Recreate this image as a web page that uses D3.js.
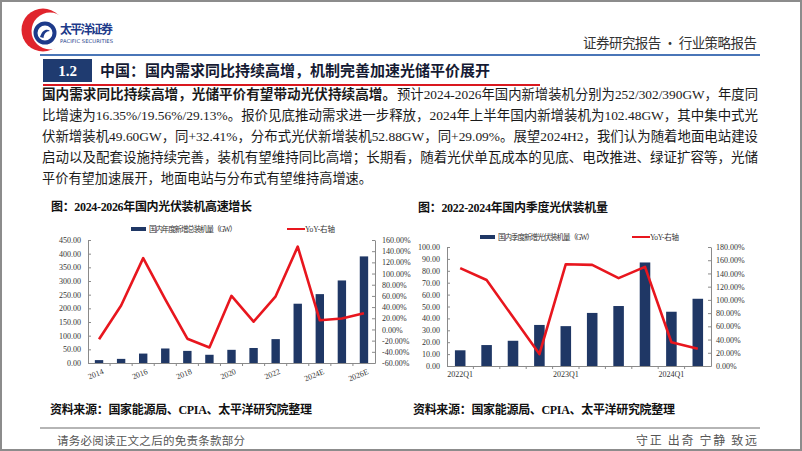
<!DOCTYPE html>
<html><head><meta charset="utf-8">
<script src="https://cdn.jsdelivr.net/npm/d3@7"></script>
<style>
body{margin:0;background:#fff;}
#wrap{position:relative;width:802px;height:451px;overflow:hidden;background:#fff;}
svg{position:absolute;left:0;top:0;}
</style></head>
<body><div id="wrap"></div>
<script>
// ---------- data ----------
const years = ["2014","2015","2016","2017","2018","2019","2020","2021","2022","2023","2024E","2025E","2026E"];
const yearLabels = ["2014","2016","2018","2020","2022","2024E","2026E"];
const annualGW = [10.6, 15.1, 34.5, 53.1, 44.3, 30.1, 48.2, 54.9, 87.4, 216.9, 252, 302, 390];
const annualYoY = [-17.4, 42.9, 127.5, 53.6, -16.6, -32.2, 60.1, 13.9, 59.3, 148.1, 16.35, 19.56, 29.13];
const leftTicksL = [0,50,100,150,200,250,300,350,400,450];
const leftTicksR = [-60,-40,-20,0,20,40,60,80,100,120,140,160];

const quarters = ["2022Q1","2022Q2","2022Q3","2022Q4","2023Q1","2023Q2","2023Q3","2023Q4","2024Q1","2024Q2"];
const quarterLabels = ["2022Q1","2023Q1","2024Q1"];
const quarterGW = [13.2, 17.6, 21.2, 34.5, 33.5, 44.6, 50.4, 87.0, 45.6, 56.5];
const quarterYoY = [148, 130, 74, 18, 154, 153, 133, 150, 36, 26];
const rightTicksL = [0,10,20,30,40,50,60,70,80,90,100];
const rightTicksR = [0,20,40,60,80,100,120,140,160,180];

const legendBarL = "国内年度新增总装机量（GW）";
const legendBarR = "国内季度新增光伏装机量（GW）";
const legendLine = "YoY-右轴";

const BAR = "#1f3765", RED = "#e8161e", AX = "#8a8a8a";
const SERIF = "'Liberation Serif','Noto Sans CJK SC',serif";
const CJK = "'Noto Sans CJK SC','Liberation Serif',sans-serif";

const svg = d3.select("#wrap").append("svg").attr("width",802).attr("height",451);

// frame
svg.append("rect").attr("x",1).attr("y",1).attr("width",800).attr("height",449)
  .attr("fill","none").attr("stroke","#8c8c8c").attr("stroke-width",2);

// ---------- header ----------
const logo = svg.append("g");
logo.append("circle").attr("cx",43).attr("cy",30).attr("r",21.5).attr("fill","#e0242c");
logo.append("circle").attr("cx",50).attr("cy",31).attr("r",18.5).attr("fill","#fff");
logo.append("circle").attr("cx",45).attr("cy",33).attr("r",9.5).attr("fill","none").attr("stroke","#1d3a8a").attr("stroke-width",4);
logo.append("path").attr("d","M40,37 C42,30 47,28 50,31 C46,31 44,34 43.5,38 Z").attr("fill","#1d3a8a");
svg.append("text").attr("x",60).attr("y",34).attr("font-family",CJK).attr("font-weight","bold")
  .attr("font-size",12).attr("fill","#1d3a8a").attr("textLength",53).text("太平洋证券");
svg.append("text").attr("x",60).attr("y",42.5).attr("font-family","'DejaVu Sans',sans-serif")
  .attr("font-size",5.2).attr("fill","#1d3a8a").attr("textLength",53).text("PACIFIC SECURITIES");
svg.append("text").attr("x",583).attr("y",48).attr("font-family",CJK).attr("font-size",13.5)
  .attr("fill","#333").attr("textLength",174).text("证券研究报告 • 行业策略报告");
svg.append("rect").attr("x",40).attr("y",54).attr("width",720).attr("height",2).attr("fill","#4a76b8");

// section title
svg.append("rect").attr("x",43).attr("y",59).attr("width",49).attr("height",23).attr("fill","#1f3b70");
svg.append("text").attr("x",67.5).attr("y",76).attr("text-anchor","middle").attr("font-family",SERIF)
  .attr("font-weight","bold").attr("font-size",15).attr("fill","#fff").text("1.2");
svg.append("text").attr("x",100).attr("y",76).attr("font-family",CJK).attr("font-weight","bold")
  .attr("font-size",15).attr("fill","#151a33").attr("textLength",390).text("中国：国内需求同比持续高增，机制完善加速光储平价展开");
svg.append("rect").attr("x",43).attr("y",84).attr("width",497).attr("height",2).attr("fill","#d9181f");

// paragraph
const pf = 13.2;
function pline(x, y, txt, len, bold){
  const t = svg.append("text").attr("x",x).attr("y",y).attr("font-family",SERIF)
    .attr("font-size",pf).attr("fill","#1a1a1a").text(txt);
  if (bold) t.attr("font-weight","bold");
  if (len) t.attr("textLength",len).attr("lengthAdjust","spacingAndGlyphs");
}
pline(42,99,"国内需求同比持续高增，光储平价有望带动光伏持续高增。",354,true);
pline(397,99,"预计2024-2026年国内新增装机分别为252/302/390GW，年度同",361);
pline(42,120,"比增速为16.35%/19.56%/29.13%。报价见底推动需求进一步释放，2024年上半年国内新增装机为102.48GW，其中集中式光",716);
pline(42,141,"伏新增装机49.60GW，同+32.41%，分布式光伏新增装机52.88GW，同+29.09%。展望2024H2，我们认为随着地面电站建设",716);
pline(42,162,"启动以及配套设施持续完善，装机有望维持同比高增；长期看，随着光伏单瓦成本的见底、电改推进、绿证扩容等，光储",716);
pline(42,183,"平价有望加速展开，地面电站与分布式有望维持高增速。",330);

// chart titles & sources
function boldText(x,y,txt,len,size){
  svg.append("text").attr("x",x).attr("y",y).attr("font-family",SERIF).attr("font-weight","bold")
    .attr("font-size",size).attr("fill","#111").attr("textLength",len).text(txt);
}
boldText(51,211,"图：2024-2026年国内光伏装机高速增长",201,12);
boldText(418,212,"图：2022-2024年国内季度光伏装机量",190,12);
boldText(50,414,"资料来源：国家能源局、CPIA、太平洋研究院整理",262,12);
boldText(413,414,"资料来源：国家能源局、CPIA、太平洋研究院整理",262,12);

// footer
svg.append("rect").attr("x",40).attr("y",427).attr("width",720).attr("height",2).attr("fill","#b5b5b5");
svg.append("text").attr("x",57).attr("y",445).attr("font-family",CJK).attr("font-size",11.5)
  .attr("fill","#555").attr("textLength",188).text("请务必阅读正文之后的免责条款部分");
svg.append("text").attr("x",636).attr("y",445).attr("font-family",CJK).attr("font-size",12)
  .attr("fill","#555").attr("textLength",121).text("守正 出奇 宁静 致远");

// ---------- chart builder ----------
function styleAxis(g){
  g.selectAll("path.domain").attr("stroke",AX);
  g.selectAll(".tick line").attr("stroke",AX);
  g.selectAll("text").attr("font-family",SERIF).attr("font-size",8).attr("fill","#333");
}
function legend(x, y, barLabel, barW, lx, lineW){
  svg.append("rect").attr("x",x).attr("y",y-2).attr("width",15).attr("height",4).attr("fill",BAR);
  svg.append("text").attr("x",x+18).attr("y",y+2.5).attr("font-family",SERIF).attr("font-size",7.5)
    .attr("fill","#333").attr("textLength",barW).text(barLabel);
  svg.append("line").attr("x1",lx).attr("x2",lx+18).attr("y1",y).attr("y2",y).attr("stroke",RED).attr("stroke-width",2);
  svg.append("text").attr("x",lx+18).attr("y",y+2.5).attr("font-family",SERIF).attr("font-size",7.5)
    .attr("fill","#333").attr("textLength",lineW).text(legendLine);
}

// ---------- left chart ----------
{
  const x0=88,x1=375,y0=363,y1=240;
  const x = d3.scaleBand().domain(years).range([x0,x1]).paddingInner(0.62).paddingOuter(0.31);
  const yl = d3.scaleLinear().domain([0,450]).range([y0,y1]);
  const yr = d3.scaleLinear().domain([-60,160]).range([y0,y1]);
  const g = svg.append("g");
  g.selectAll("rect.bar").data(years).join("rect").attr("class","bar")
    .attr("x",d=>x(d)).attr("width",x.bandwidth())
    .attr("y",(d,i)=>yl(annualGW[i])).attr("height",(d,i)=>y0-yl(annualGW[i])).attr("fill",BAR);
  const ga = g.append("g").attr("transform",`translate(${x0},0)`)
    .call(d3.axisLeft(yl).tickValues(leftTicksL).tickFormat(d=>d.toFixed(2)).tickSizeInner(-3).tickSizeOuter(0).tickPadding(7));
  styleAxis(ga);
  const gr = g.append("g").attr("transform",`translate(${x1},0)`)
    .call(d3.axisRight(yr).tickValues(leftTicksR).tickFormat(d=>d.toFixed(2)+"%").tickSizeInner(-3).tickSizeOuter(0).tickPadding(7));
  styleAxis(gr);
  // x axis
  const gx = g.append("g").attr("transform",`translate(0,${y0})`)
    .call(d3.axisBottom(x).tickValues(yearLabels).tickSize(0).tickPadding(0));
  gx.selectAll("path.domain").attr("stroke",AX);
  gx.selectAll(".tick text").attr("font-family",SERIF).attr("font-size",8).attr("fill","#333")
    .attr("text-anchor","end").attr("transform",`translate(4,8) rotate(-22)`).attr("dy","0.35em").attr("y",0);
  g.selectAll("line.xt").data(years.slice(1)).join("line").attr("class","xt")
    .attr("x1",d=>x(d)-x.step()*x.paddingInner()/2).attr("x2",d=>x(d)-x.step()*x.paddingInner()/2)
    .attr("y1",y0).attr("y2",y0+3).attr("stroke",AX);
  const line = d3.line().x((d,i)=>x(years[i])+x.bandwidth()/2).y(d=>yr(d));
  g.append("path").datum(annualYoY).attr("d",line).attr("fill","none").attr("stroke",RED)
    .attr("stroke-width",2.6).attr("stroke-linejoin","round");
  legend(131,229,legendBarL,88,287,30);
}

// ---------- right chart ----------
{
  const x0=447,x1=711,y0=366,y1=247;
  const x = d3.scaleBand().domain(quarters).range([x0,x1]).paddingInner(0.6).paddingOuter(0.3);
  const yl = d3.scaleLinear().domain([0,100]).range([y0,y1]);
  const yr = d3.scaleLinear().domain([0,180]).range([y0,y1]);
  const g = svg.append("g");
  g.selectAll("rect.bar").data(quarters).join("rect").attr("class","bar")
    .attr("x",d=>x(d)).attr("width",x.bandwidth())
    .attr("y",(d,i)=>yl(quarterGW[i])).attr("height",(d,i)=>y0-yl(quarterGW[i])).attr("fill",BAR);
  const ga = g.append("g").attr("transform",`translate(${x0},0)`)
    .call(d3.axisLeft(yl).tickValues(rightTicksL).tickFormat(d=>d.toFixed(2)).tickSizeInner(-3).tickSizeOuter(0).tickPadding(7));
  styleAxis(ga);
  const gr = g.append("g").attr("transform",`translate(${x1},0)`)
    .call(d3.axisRight(yr).tickValues(rightTicksR).tickFormat(d=>d.toFixed(2)+"%").tickSizeInner(-3).tickSizeOuter(0).tickPadding(5));
  styleAxis(gr);
  const gx = g.append("g").attr("transform",`translate(0,${y0})`)
    .call(d3.axisBottom(x).tickValues(quarterLabels).tickSize(0).tickPadding(5));
  gx.selectAll("path.domain").attr("stroke",AX);
  gx.selectAll(".tick text").attr("font-family",SERIF).attr("font-size",8).attr("fill","#333");
  g.selectAll("line.xt").data(quarters.slice(1)).join("line").attr("class","xt")
    .attr("x1",d=>x(d)-x.step()*x.paddingInner()/2).attr("x2",d=>x(d)-x.step()*x.paddingInner()/2)
    .attr("y1",y0).attr("y2",y0+3).attr("stroke",AX);
  const line = d3.line().x((d,i)=>x(quarters[i])+x.bandwidth()/2).y(d=>yr(d));
  g.append("path").datum(quarterYoY).attr("d",line).attr("fill","none").attr("stroke",RED)
    .attr("stroke-width",2.6).attr("stroke-linejoin","round");
  legend(480,237,legendBarR,96,632,29);
}
</script>
</body></html>
